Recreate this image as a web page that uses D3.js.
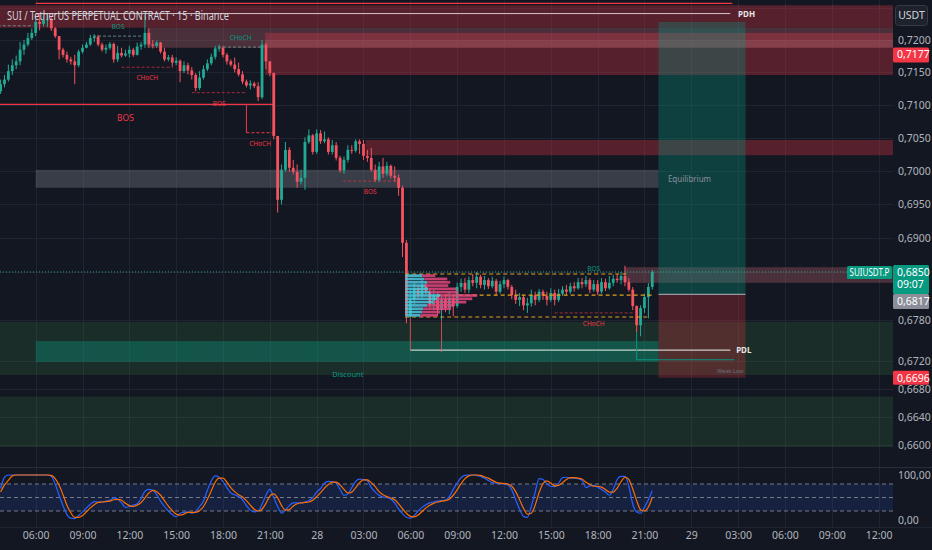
<!DOCTYPE html>
<html><head><meta charset="utf-8">
<script src="https://cdn.jsdelivr.net/npm/d3@7"></script>
<style>
html,body{margin:0;padding:0;background:#131722;}
svg{display:block;}
text{font-family:"Liberation Sans Narrow","Noto Sans",Roboto,sans-serif;}
</style></head>
<body>
<svg id="c" width="932" height="550"></svg>
<script>
// ---------------- DATA ----------------
const firstBarUTC = [2024, 9, 27, 3, 45]; // 15-minute bars
const opens = [
0.7121,0.7132,0.7139,0.7152,0.7161,0.7167,0.7185,0.7193,0.7203,0.7211,
0.7228,0.7225,0.7231,0.7232,0.7218,0.7206,0.7185,0.7177,0.7170,0.7167,
0.7161,0.7182,0.7188,0.7193,0.7203,0.7205,0.7193,0.7185,0.7188,0.7194,
0.7170,0.7180,0.7176,0.7179,0.7185,0.7177,0.7190,0.7193,0.7211,0.7193,
0.7191,0.7196,0.7182,0.7170,0.7173,0.7165,0.7168,0.7152,0.7161,0.7153,
0.7146,0.7126,0.7142,0.7155,0.7164,0.7174,0.7187,0.7188,0.7177,0.7167,
0.7162,0.7155,0.7147,0.7136,0.7130,0.7133,0.7129,0.7112,0.7193,0.7167,
0.7149,0.7053,0.6957,0.7002,0.7032,0.7005,0.6999,0.6984,0.6990,0.7044,
0.7054,0.7029,0.7057,0.7045,0.7048,0.7029,0.7039,0.7020,0.7001,0.7017,
0.7032,0.7031,0.7045,0.7041,0.7023,0.7020,0.7002,0.6987,0.7007,0.6996,
0.7008,0.6993,0.6990,0.6975,0.6893,0.6787,0.6809,0.6826,0.6815,0.6831,
0.6821,0.6801,0.6816,0.6794,0.6809,0.6797,0.6812,0.6800,0.6828,0.6834,
0.6824,0.6838,0.6834,0.6843,0.6831,0.6838,0.6829,0.6837,0.6821,0.6832,
0.6838,0.6828,0.6816,0.6809,0.6813,0.6801,0.6804,0.6816,0.6809,0.6821,
0.6815,0.6809,0.6819,0.6809,0.6818,0.6824,0.6821,0.6829,0.6826,0.6835,
0.6832,0.6838,0.6824,0.6832,0.6821,0.6835,0.6826,0.6834,0.6840,0.6838,
0.6844,0.6835,0.6824,0.6800,0.6772,0.6797,0.6813,0.6828];
const highs = [
0.7139,0.7146,0.7162,0.7170,0.7176,0.7197,0.7200,0.7211,0.7218,0.7238,
0.7241,0.7238,0.7240,0.7235,0.7220,0.7206,0.7188,0.7182,0.7174,0.7177,
0.7185,0.7193,0.7197,0.7208,0.7209,0.7208,0.7196,0.7193,0.7197,0.7196,
0.7191,0.7188,0.7185,0.7191,0.7188,0.7196,0.7197,0.7241,0.7218,0.7200,
0.7199,0.7197,0.7188,0.7177,0.7177,0.7173,0.7170,0.7167,0.7165,0.7158,
0.7149,0.7152,0.7161,0.7170,0.7179,0.7191,0.7193,0.7191,0.7180,0.7170,
0.7173,0.7165,0.7152,0.7139,0.7138,0.7136,0.7135,0.7200,0.7196,0.7167,
0.7150,0.7053,0.7010,0.7044,0.7036,0.7017,0.7010,0.7002,0.7051,0.7063,
0.7056,0.7063,0.7062,0.7060,0.7051,0.7047,0.7044,0.7023,0.7022,0.7039,
0.7039,0.7048,0.7048,0.7047,0.7032,0.7035,0.7010,0.7014,0.7020,0.7014,
0.7010,0.7007,0.6995,0.6978,0.6897,0.6824,0.6834,0.6831,0.6838,0.6835,
0.6826,0.6824,0.6821,0.6816,0.6815,0.6821,0.6816,0.6834,0.6840,0.6841,
0.6843,0.6847,0.6850,0.6846,0.6844,0.6841,0.6843,0.6840,0.6837,0.6843,
0.6840,0.6831,0.6824,0.6819,0.6816,0.6812,0.6824,0.6821,0.6825,0.6824,
0.6821,0.6826,0.6824,0.6825,0.6829,0.6831,0.6834,0.6835,0.6841,0.6841,
0.6844,0.6841,0.6838,0.6838,0.6841,0.6840,0.6844,0.6846,0.6847,0.6850,
0.6859,0.6841,0.6828,0.6801,0.6801,0.6818,0.6834,0.6853];
const lows = [
0.7117,0.7127,0.7136,0.7146,0.7155,0.7161,0.7177,0.7190,0.7200,0.7206,
0.7215,0.7221,0.7220,0.7214,0.7203,0.7170,0.7173,0.7165,0.7162,0.7132,
0.7158,0.7179,0.7187,0.7191,0.7197,0.7190,0.7182,0.7179,0.7185,0.7165,
0.7166,0.7173,0.7174,0.7173,0.7174,0.7176,0.7185,0.7188,0.7188,0.7187,
0.7188,0.7179,0.7167,0.7167,0.7159,0.7161,0.7135,0.7149,0.7147,0.7139,
0.7121,0.7123,0.7139,0.7152,0.7161,0.7170,0.7182,0.7173,0.7162,0.7159,
0.7150,0.7144,0.7132,0.7127,0.7124,0.7126,0.7106,0.7109,0.7155,0.7144,
0.7048,0.6938,0.6950,0.6999,0.6999,0.6995,0.6975,0.6980,0.6972,0.7041,
0.7025,0.7026,0.7041,0.7042,0.7025,0.7025,0.7016,0.6998,0.6996,0.7013,
0.7026,0.7028,0.7026,0.7017,0.7014,0.6999,0.6984,0.6984,0.6990,0.6992,
0.6989,0.6984,0.6963,0.6872,0.6775,0.6782,0.6801,0.6809,0.6809,0.6815,
0.6797,0.6794,0.6785,0.6779,0.6791,0.6788,0.6785,0.6797,0.6821,0.6819,
0.6819,0.6829,0.6826,0.6826,0.6824,0.6825,0.6826,0.6816,0.6818,0.6826,
0.6824,0.6810,0.6803,0.6800,0.6794,0.6790,0.6799,0.6801,0.6806,0.6809,
0.6801,0.6806,0.6801,0.6806,0.6815,0.6816,0.6818,0.6821,0.6824,0.6826,
0.6828,0.6819,0.6821,0.6816,0.6818,0.6822,0.6824,0.6829,0.6834,0.6832,
0.6829,0.6821,0.6794,0.6762,0.6756,0.6790,0.6782,0.6824];
const closes = [
0.7132,0.7139,0.7152,0.7161,0.7167,0.7185,0.7193,0.7203,0.7211,0.7228,
0.7225,0.7231,0.7232,0.7218,0.7206,0.7185,0.7177,0.7170,0.7167,0.7161,
0.7182,0.7188,0.7193,0.7203,0.7205,0.7193,0.7185,0.7188,0.7194,0.7170,
0.7180,0.7176,0.7179,0.7185,0.7177,0.7190,0.7193,0.7211,0.7193,0.7191,
0.7196,0.7182,0.7170,0.7173,0.7165,0.7168,0.7152,0.7161,0.7153,0.7146,
0.7126,0.7142,0.7155,0.7164,0.7174,0.7187,0.7188,0.7177,0.7167,0.7162,
0.7155,0.7147,0.7136,0.7130,0.7133,0.7129,0.7112,0.7193,0.7167,0.7149,
0.7053,0.6957,0.7002,0.7032,0.7005,0.6999,0.6984,0.6990,0.7044,0.7054,
0.7029,0.7057,0.7045,0.7048,0.7029,0.7039,0.7020,0.7001,0.7017,0.7032,
0.7031,0.7045,0.7041,0.7023,0.7020,0.7002,0.6987,0.7007,0.6996,0.7008,
0.6993,0.6990,0.6975,0.6893,0.6787,0.6809,0.6826,0.6815,0.6831,0.6821,
0.6801,0.6816,0.6794,0.6809,0.6797,0.6812,0.6800,0.6828,0.6834,0.6824,
0.6838,0.6834,0.6843,0.6831,0.6838,0.6829,0.6837,0.6821,0.6832,0.6838,
0.6828,0.6816,0.6809,0.6813,0.6801,0.6804,0.6816,0.6809,0.6821,0.6815,
0.6809,0.6819,0.6809,0.6818,0.6824,0.6821,0.6829,0.6826,0.6835,0.6832,
0.6838,0.6824,0.6832,0.6821,0.6835,0.6826,0.6834,0.6840,0.6838,0.6844,
0.6835,0.6824,0.6800,0.6772,0.6797,0.6813,0.6828,0.6850];

const stochK = [
70,95,100,100,100,100,100,100,100,100,
100,100,100,97,80,55,32,12,4,3,
10,18,27,35,41,40,40,42,44,49,
46,38,28,30,33,36,48,64,68,66,
56,42,30,20,12,7,15,17,18,15,
19,30,42,66,87,98,95,85,72,60,
56,52,45,32,22,18,20,35,55,68,
50,30,15,22,32,38,38,38,40,43,
50,62,70,82,86,85,82,68,55,58,
72,86,91,90,87,72,62,55,51,50,
46,38,24,14,6,4,10,20,28,34,
38,40,42,43,44,52,68,82,94,99,
100,100,99,97,93,88,83,82,81,80,
78,67,45,24,8,6,30,62,92,90,
80,75,74,82,94,95,93,93,92,88,
72,76,77,73,68,62,55,68,90,97,
97,75,35,18,15,28,45,65];
const stochD = [
62,78,88,98,100,100,100,100,100,100,
100,100,100,99,92,77,56,33,16,6,
6,10,18,27,34,39,40,41,42,45,
46,44,37,32,30,33,39,49,60,66,
63,55,43,31,21,13,11,13,17,17,
17,21,30,46,65,84,93,93,84,72,
63,56,51,43,33,24,20,24,37,53,
58,49,32,22,23,31,36,38,39,40,
44,52,61,71,79,84,84,78,68,60,
62,72,83,89,89,83,74,63,56,52,
49,45,36,25,15,8,7,11,19,27,
33,37,40,42,43,46,55,67,81,92,
98,100,100,99,96,93,88,84,82,81,
80,75,63,45,26,13,15,33,61,81,
87,82,76,77,83,90,94,94,93,91,
84,79,75,75,73,68,62,62,71,85,
95,90,69,43,23,20,29,50];

const priceTicks = [0.7200,0.7150,0.7100,0.7050,0.7000,0.6950,0.6900,0.6780,0.6720,0.6680,0.6640,0.6600];
const gridPrices = [0.7250,0.7200,0.7150,0.7100,0.7050,0.7000,0.6950,0.6900,0.6850,0.6780,0.6720,0.6680,0.6640,0.6600];
const timeTicks = ["2024-10-27 06:00","2024-10-27 09:00","2024-10-27 12:00","2024-10-27 15:00","2024-10-27 18:00","2024-10-27 21:00",
 "2024-10-28 00:00","2024-10-28 03:00","2024-10-28 06:00","2024-10-28 09:00","2024-10-28 12:00","2024-10-28 15:00","2024-10-28 18:00","2024-10-28 21:00",
 "2024-10-29 00:00","2024-10-29 03:00","2024-10-29 06:00","2024-10-29 09:00","2024-10-29 12:00"];
const timeLabels = ["06:00","09:00","12:00","15:00","18:00","21:00","28","03:00","06:00","09:00","12:00","15:00","18:00","21:00","29","03:00","06:00","09:00","12:00"];

// zones: bar index range (null = to price scale), price top/bottom
const zoneFrom = [-2, 37.5, 67.8, 67.8, 93.5, 9, 160, -2, 9, -2];
const zoneTo   = [null, null, null, null, null, 168.6, null, null, 168.6, null];
const zoneTop  = [0.7254, 0.7219, 0.7211, 0.7200, 0.7047, 0.7002, 0.6857, 0.6777, 0.6749, 0.6669];
const zoneBot  = [0.7219, 0.7188, 0.7146, 0.7188, 0.7024, 0.6975, 0.6834, 0.6700, 0.6719, 0.6597];
const zoneKind = ["supply","supplyLight","supply","light","supply","equil","supplyLight","discount","demand","discount"];

// market-structure lines: from bar, to bar, price, style, label
const structFrom  = [-2, 23.7, 31, 55.7, 49, 87.8, 142];
const structTo    = [8.3, 36.5, 44.2, 67.3, 63, 101.6, 162];
const structPrice = [0.7222, 0.7206, 0.7158, 0.7189, 0.7119, 0.6985, 0.6790];
const structBull  = [true, true, false, true, false, false, false];
const structLabel = ["", "BOS", "CHoCH", "CHoCH", "BOS", "BOS", "CHoCH"];

const bosPrice = 0.7101, chochPrice = 0.7058;
const rangeHigh = 0.6847, rangeMid = 0.6816, rangeLow = 0.6784;
const pdh = 0.7241, topLine = 0.7257, pdl = 0.6736, weakLow = 0.6722;
const lastPrice = 0.6850, entry = 0.6817, target = 0.7228, stop = 0.6696, level7177 = 0.7177;

// visible-range volume profile (top row first)
const vpUp   = [17,19,22,20,23,25,35,32,28,22,18,17,15];
const vpDown = [13,23,23,23,28,28,37,35,33,27,28,18,17];

// ---------------- CHART ----------------
const svg = d3.select("#c");
const plotR = 893, mainB = 467;
const t0 = Date.UTC(...firstBarUTC);
const parseT = d3.utcParse("%Y-%m-%d %H:%M");
const x = d3.scaleUtc()
  .domain([parseT("2024-10-27 06:00"), parseT("2024-10-29 12:00")])
  .range([35.7, 878.6]);
const bx = i => x(new Date(t0 + i * 900000));
const y = d3.scaleLog().domain([0.66, 0.72]).range([445, 40]);
const ys = d3.scaleLinear().domain([0, 100]).range([520, 475]);
const fmt = v => v.toFixed(4).replace(".", ",");
const UP = "#22ab94", DN = "#f7525f";

svg.append("rect").attr("width", 932).attr("height", 550).attr("fill", "#131722");
const defs = svg.append("defs");
defs.append("clipPath").attr("id", "mc").append("rect").attr("x", 0).attr("y", 0).attr("width", plotR).attr("height", mainB);
defs.append("clipPath").attr("id", "sc").append("rect").attr("x", 0).attr("y", mainB).attr("width", plotR).attr("height", 60);

// grid
const grid = svg.append("g").attr("stroke", "#1f2430").attr("stroke-width", 1);
gridPrices.forEach(p => grid.append("line").attr("x1", 0).attr("x2", plotR).attr("y1", Math.round(y(p)) + .5).attr("y2", Math.round(y(p)) + .5));
timeTicks.forEach(t => grid.append("line").attr("x1", Math.round(x(parseT(t))) + .5).attr("x2", Math.round(x(parseT(t))) + .5).attr("y1", 0).attr("y2", 527));

const main = svg.append("g").attr("clip-path", "url(#mc)");
const xr = b => b === null ? plotR : bx(b);

// zones
const zoneFill = {
  supply: "rgba(242,54,69,0.30)", supplyLight: "rgba(200,105,118,0.30)", light: "rgba(255,255,255,0.07)",
  equil: "rgba(120,123,134,0.38)", discount: "rgba(76,175,80,0.15)", demand: "rgba(8,153,129,0.38)"
};
zoneFrom.forEach((f, k) => {
  main.append("rect").attr("x", bx(f)).attr("width", xr(zoneTo[k]) - bx(f))
    .attr("y", y(zoneTop[k])).attr("height", y(zoneBot[k]) - y(zoneTop[k]))
    .attr("fill", zoneFill[zoneKind[k]]);
});

// position tool
main.append("rect").attr("x", bx(168.6)).attr("width", bx(190.9) - bx(168.6))
  .attr("y", y(target)).attr("height", y(entry) - y(target)).attr("fill", "rgba(8,153,129,0.32)");
main.append("rect").attr("x", bx(168.6)).attr("width", bx(190.9) - bx(168.6))
  .attr("y", y(entry)).attr("height", y(stop) - y(entry)).attr("fill", "rgba(242,54,69,0.25)");
main.append("line").attr("x1", bx(168.6)).attr("x2", bx(190.9)).attr("y1", y(entry)).attr("y2", y(entry))
  .attr("stroke", "#9598a1").attr("stroke-width", 1.2);

// top lines
main.append("line").attr("x1", bx(9)).attr("x2", bx(187.5)).attr("y1", y(topLine)).attr("y2", y(topLine)).attr("stroke", "#f23645").attr("stroke-width", 1.2);
main.append("line").attr("x1", bx(9)).attr("x2", bx(187)).attr("y1", y(pdh)).attr("y2", y(pdh)).attr("stroke", "rgba(235,225,228,0.85)").attr("stroke-width", 1);
main.append("text").attr("x", bx(189)).attr("y", y(pdh) + 3).attr("fill", "#e6e6e6").attr("font-size", 8).attr("font-weight", "bold").text("PDH");

// structure lines
structFrom.forEach((f, k) => {
  const col = structBull[k] ? "rgba(130,170,165,0.75)" : "rgba(242,54,69,0.65)";
  main.append("line").attr("x1", bx(f)).attr("x2", bx(structTo[k])).attr("y1", y(structPrice[k])).attr("y2", y(structPrice[k]))
    .attr("stroke", col).attr("stroke-width", 1).attr("stroke-dasharray", "3,2");
  if (structLabel[k]) {
    const above = structBull[k];
    main.append("text").attr("x", (bx(f) + bx(structTo[k])) / 2).attr("y", y(structPrice[k]) + (above ? -7 : 13))
      .attr("text-anchor", "middle").attr("font-size", 6.5)
      .attr("fill", structBull[k] ? "#089981" : "#f23645").text(structLabel[k]);
  }
});
// main BOS + CHoCH
main.append("line").attr("x1", bx(-2)).attr("x2", bx(70)).attr("y1", y(bosPrice)).attr("y2", y(bosPrice)).attr("stroke", "#f23645").attr("stroke-width", 1.2);
main.append("text").attr("x", bx(32)).attr("y", y(bosPrice) + 17).attr("text-anchor", "middle").attr("font-size", 8.5).attr("fill", "#f23645").text("BOS");
main.append("line").attr("x1", bx(63)).attr("x2", bx(63)).attr("y1", y(bosPrice)).attr("y2", y(chochPrice)).attr("stroke", "#f23645").attr("stroke-width", 1);
main.append("line").attr("x1", bx(63)).attr("x2", bx(70)).attr("y1", y(chochPrice)).attr("y2", y(chochPrice)).attr("stroke", "#f23645").attr("stroke-width", 1).attr("stroke-dasharray", "3,2");
main.append("text").attr("x", bx(66.5)).attr("y", y(chochPrice) + 13).attr("text-anchor", "middle").attr("font-size", 6.5).attr("fill", "#f23645").text("CHoCH");

// PDL & weak low
main.append("line").attr("x1", bx(105)).attr("x2", bx(187)).attr("y1", y(pdl)).attr("y2", y(pdl)).attr("stroke", "rgba(225,230,228,0.85)").attr("stroke-width", 1.2);
main.append("line").attr("x1", bx(105)).attr("x2", bx(105)).attr("y1", y(lows[105])).attr("y2", y(pdl)).attr("stroke", "rgba(247,82,95,0.8)").attr("stroke-width", 1);
main.append("line").attr("x1", bx(113)).attr("x2", bx(113)).attr("y1", y(lows[113])).attr("y2", y(pdl) + 2).attr("stroke", "rgba(247,82,95,0.8)").attr("stroke-width", 1);
main.append("text").attr("x", bx(188.5)).attr("y", y(pdl) + 3).attr("fill", "#e6e6e6").attr("font-size", 8).attr("font-weight", "bold").text("PDL");
main.append("line").attr("x1", bx(163)).attr("x2", bx(188)).attr("y1", y(weakLow)).attr("y2", y(weakLow)).attr("stroke", "#089981").attr("stroke-width", 1.2);
main.append("line").attr("x1", bx(163)).attr("x2", bx(163)).attr("y1", y(lows[163])).attr("y2", y(weakLow)).attr("stroke", "#089981").attr("stroke-width", 1);
main.append("text").attr("x", bx(187)).attr("y", y(weakLow) + 13).attr("text-anchor", "middle").attr("font-size", 5.5).attr("fill", "#6b6f7a").text("Weak Low");

// labels
main.append("text").attr("x", bx(171)).attr("y", y((zoneTop[5] + zoneBot[5]) / 2) + 3).attr("font-size", 8).attr("fill", "#8a8e99").text("Equilibrium");
main.append("text").attr("x", bx(89)).attr("y", y(zoneBot[7]) + 2).attr("text-anchor", "middle").attr("font-size", 7.5).attr("fill", "#089981").text("Discount");

// candles
const cg = main.append("g");
closes.forEach((c, i) => {
  const o = opens[i], col = c >= o ? UP : DN, cx = bx(i);
  cg.append("line").attr("x1", cx).attr("x2", cx).attr("y1", y(highs[i])).attr("y2", y(lows[i])).attr("stroke", col).attr("stroke-width", 1);
  const top = y(Math.max(o, c)), bot = y(Math.min(o, c));
  cg.append("rect").attr("x", cx - 1.4).attr("width", 2.8).attr("y", top).attr("height", Math.max(1, bot - top)).attr("fill", col);
});

// consolidation range lines
[[103.7, 161, rangeHigh], [112, 167.5, rangeMid], [103.7, 166.5, rangeLow]].forEach(([a, b, p]) => {
  main.append("line").attr("x1", bx(a)).attr("x2", bx(b)).attr("y1", y(p)).attr("y2", y(p))
    .attr("stroke", "#e3a11d").attr("stroke-width", 1.2).attr("stroke-dasharray", "4,3");
});
main.append("text").attr("x", bx(152)).attr("y", y(rangeHigh) - 3).attr("text-anchor", "middle").attr("font-size", 6.5).attr("fill", "#089981").text("BOS");

// volume profile
const vpX = d3.scaleLinear().domain([0, 72]).range([0, 72]);
const rowH = (y(rangeLow) - y(rangeHigh)) / vpUp.length;
const vpx0 = bx(103.7);
vpUp.forEach((u, r) => {
  const ry = y(rangeHigh) + r * rowH;
  main.append("rect").attr("x", vpx0).attr("y", ry + .3).attr("width", vpX(u)).attr("height", rowH - .6).attr("fill", "rgba(80,200,225,0.85)");
  main.append("rect").attr("x", vpx0 + vpX(u)).attr("y", ry + .3).attr("width", vpX(vpDown[r])).attr("height", rowH - .6).attr("fill", "rgba(226,70,125,0.85)");
});

// last price dotted line
main.append("line").attr("x1", 0).attr("x2", plotR).attr("y1", y(lastPrice)).attr("y2", y(lastPrice))
  .attr("stroke", "#2e9e8c").attr("stroke-width", 1).attr("stroke-dasharray", "1,2");

// title
svg.append("text").attr("x", 7).attr("y", 19.5).attr("font-size", 12.5).attr("fill", "#d1d4dc")
  .attr("textLength", 222).attr("lengthAdjust", "spacingAndGlyphs")
  .text("SUI / TetherUS PERPETUAL CONTRACT · 15 · Binance");

// pane separators
svg.append("line").attr("x1", 0).attr("x2", 932).attr("y1", mainB + .5).attr("y2", mainB + .5).attr("stroke", "#2a2e39");
svg.append("line").attr("x1", 0).attr("x2", 932).attr("y1", 527.5).attr("y2", 527.5).attr("stroke", "#1f2430");

// stochastic RSI pane
const sp = svg.append("g").attr("clip-path", "url(#sc)");
sp.append("rect").attr("x", 0).attr("width", plotR).attr("y", ys(80)).attr("height", ys(20) - ys(80)).attr("fill", "rgba(41,98,255,0.13)");
[80, 50, 20].forEach(v => sp.append("line").attr("x1", 0).attr("x2", plotR).attr("y1", ys(v)).attr("y2", ys(v))
  .attr("stroke", "#787b86").attr("stroke-dasharray", "4,3").attr("stroke-width", 1));
const lk = d3.line().x((d, i) => bx(i)).y(d => ys(d)).curve(d3.curveMonotoneX);
sp.append("path").datum(stochK).attr("d", lk).attr("fill", "none").attr("stroke", "#2962ff").attr("stroke-width", 1.2);
sp.append("path").datum(stochD).attr("d", lk).attr("fill", "none").attr("stroke", "#ff6d00").attr("stroke-width", 1.2);

// axes
const axFont = g => g.selectAll("text").attr("fill", "#b2b5be").attr("font-size", 10.5);
const pa = svg.append("g").attr("transform", `translate(${plotR},0)`)
  .call(d3.axisRight(y).tickValues(priceTicks).tickFormat(fmt).tickSize(0).tickPadding(5));
pa.select(".domain").remove(); axFont(pa);
const sa = svg.append("g").attr("transform", `translate(${plotR},0)`)
  .call(d3.axisRight(ys).tickValues([0, 100]).tickFormat(v => v.toFixed(2).replace(".", ",")).tickSize(0).tickPadding(5));
sa.select(".domain").remove(); axFont(sa);
const ta = svg.append("g").attr("transform", "translate(0,529)")
  .call(d3.axisBottom(x).tickValues(timeTicks.map(parseT)).tickFormat((d, i) => timeLabels[i]).tickSize(0).tickPadding(3));
ta.select(".domain").remove(); axFont(ta);

// badges (top y, height)
function badge(x0, yt, w, h, fill, lines) {
  svg.append("rect").attr("x", x0).attr("y", yt).attr("width", w).attr("height", h).attr("rx", 1.5).attr("fill", fill);
  lines.forEach((t, k) => svg.append("text").attr("x", x0 + 4).attr("y", yt + 11 + k * 12.5)
    .attr("fill", "#fff").attr("font-size", 10.5).text(t));
}
badge(893, y(level7177) - 7.5, 36, 15, "#f23645", [fmt(level7177)]);
badge(893, y(stop) - 7, 36, 14, "#f23645", [fmt(stop)]);
badge(893, y(lastPrice) - 7, 36, 29, "#089981", [fmt(lastPrice), "09:07"]);
badge(893, y(lastPrice) + 22, 36, 15, "#8b8e98", [fmt(entry)]);
svg.append("rect").attr("x", 847).attr("y", y(lastPrice) - 6).attr("width", 45).attr("height", 13).attr("rx", 1.5).attr("fill", "#089981");
svg.append("text").attr("x", 849.5).attr("y", y(lastPrice) + 4).attr("fill", "#fff").attr("font-size", 10)
  .attr("textLength", 40).attr("lengthAdjust", "spacingAndGlyphs").text("SUIUSDT.P");

// USDT button
svg.append("rect").attr("x", 895.5).attr("y", 5.5).attr("width", 32).attr("height", 20).attr("rx", 3).attr("fill", "#1e222d").attr("stroke", "#363a45");
svg.append("text").attr("x", 911.5).attr("y", 19).attr("text-anchor", "middle").attr("fill", "#d1d4dc").attr("font-size", 10.5).text("USDT");
</script>
</body></html>
